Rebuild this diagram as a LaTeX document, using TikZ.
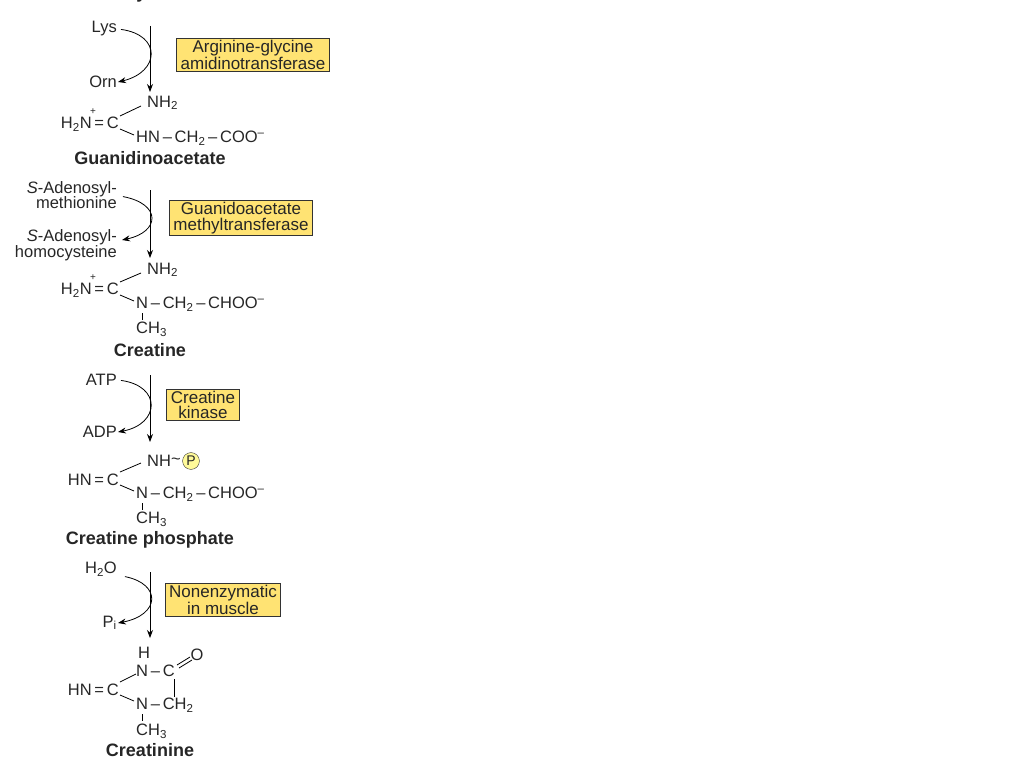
\documentclass[tikz,border=0pt]{standalone}
\usepackage{fontspec}
\setmainfont{Liberation Sans}
\usetikzlibrary{arrows.meta}
\begin{document}
\begin{tikzpicture}[x=1pt,y=-1pt,
  every node/.style={inner sep=1pt,font=\fontsize{16.5}{17}\selectfont,text=black!85},
  lbl/.style={font=\fontsize{18}{19}\selectfont\bfseries},
  enz/.style={draw=black!80,fill=orange!40!yellow!55,line width=0.8pt,align=center,inner xsep=4pt,inner ysep=1.5pt,font=\fontsize{17}{15.5}\selectfont},
  side/.style={align=right,anchor=east,font=\fontsize{16.5}{15.5}\selectfont},
  main/.style={-{Stealth[length=8pt,width=6pt]},line width=0.9pt},
  cur/.style={-{Stealth[length=8pt,width=6pt]},line width=0.8pt,shorten <=3pt},
  bond/.style={line width=0.8pt}]
\useasboundingbox (0,0) rectangle (1024,768);
% ---------- Glycine
\node[lbl] (gly) at (150,-6) {Glycine};
% ---------- step 1
\coordinate (a1) at (150,26); \coordinate (b1) at (150,92);
\draw[main] (a1) -- (b1);
\node[side] (lys) at (118,29) {Lys};
\node[side] (orn) at (118,82) {Orn};
\draw[cur] (lys.east) .. controls (162,35) and (160,72) .. (orn.east);
\node[enz] (e1) at (253,55) {Arginine-glycine\\amidinotransferase};
% Guanidinoacetate
\node[anchor=east] (ga) at (120,124) {H\textsubscript{2}N\,=\,C};
\node[font=\fontsize{10}{10}\selectfont] (gp) at (93,112) {+};
\node[anchor=west] (gb) at (146,103) {NH\textsubscript{2}};
\node[anchor=west] (gc) at (135,138) {HN\,--\,CH\textsubscript{2}\,--\,COO\textsuperscript{--}};
\draw[bond] (120,116) -- (141,106);
\draw[bond] (120,129) -- (134,135);
\node[lbl] (gal) at (150,158) {Guanidinoacetate};
% ---------- step 2
\coordinate (a2) at (150,190); \coordinate (b2) at (150,258);
\draw[main] (a2) -- (b2);
\node[side] (sam) at (118,195) {\textit{S}-Adenosyl-\\methionine};
\node[side] (sah) at (118,245) {\textit{S}-Adenosyl-\\homocysteine};
\draw[cur] (120,196) .. controls (162,204) and (160,232) .. (122,240);
\node[enz] (e2) at (241,218) {Guanidoacetate\\methyltransferase};
% Creatine
\node[anchor=east] (ca) at (120,290) {H\textsubscript{2}N\,=\,C};
\node[font=\fontsize{10}{10}\selectfont] (cp) at (93,278) {+};
\node[anchor=west] (cb) at (146,270) {NH\textsubscript{2}};
\node[anchor=west] (cc) at (135,304) {N\,--\,CH\textsubscript{2}\,--\,CHOO\textsuperscript{--}};
\node[anchor=west] (cd) at (135,329) {CH\textsubscript{3}};
\draw[bond] (120,282) -- (141,273);
\draw[bond] (120,295) -- (134,301);
\draw[bond] (142,313) -- (142,320);
\node[lbl] (cl) at (150,350) {Creatine};
% ---------- step 3
\coordinate (a3) at (150,375); \coordinate (b3) at (150,442);
\draw[main] (a3) -- (b3);
\node[side] (atp) at (118,380) {ATP};
\node[side] (adp) at (118,432) {ADP};
\draw[cur] (atp.east) .. controls (162,386) and (160,424) .. (adp.east);
\node[enz] (e3) at (203,405) {Creatine\\kinase};
% Creatine phosphate
\node[anchor=east] (pa) at (120,480) {HN\,=\,C};
\node[anchor=west] (pb) at (146,461) {NH\raisebox{2pt}{\textasciitilde}};
\node[circle,draw=black!80,fill=yellow!40,inner sep=1.2pt,font=\fontsize{14}{14}\selectfont] (pp) at (191,461) {P};
\node[anchor=west] (pc) at (135,494) {N\,--\,CH\textsubscript{2}\,--\,CHOO\textsuperscript{--}};
\node[anchor=west] (pd) at (135,519) {CH\textsubscript{3}};
\draw[bond] (120,472) -- (141,463);
\draw[bond] (120,485) -- (134,491);
\draw[bond] (142,503) -- (142,510);
\node[lbl] (pl) at (150,540) {Creatine phosphate};
% ---------- step 4
\coordinate (a4) at (150,572); \coordinate (b4) at (150,638);
\draw[main] (a4) -- (b4);
\node[side] (h2o) at (118,569) {H\textsubscript{2}O};
\node[side] (pi) at (118,623) {P\textsubscript{i}};
\draw[cur] (122,576) .. controls (162,584) and (160,615) .. (pi.east);
\node[enz] (e4) at (223,600) {Nonenzymatic\\in muscle};
% Creatinine
\node[anchor=west] (ka) at (137,653) {H};
\node[anchor=west] (kb) at (135,671) {N\,--\,C};
\node (ko) at (197,655) {O};
\draw[bond] (177,665) -- (190,657);
\draw[bond] (179,668) -- (192,660);
\node[anchor=east] (kc) at (120,690) {HN\,=\,C};
\draw[bond] (120,682) -- (136,674);
\draw[bond] (120,695) -- (134,701);
\node[anchor=west] (kd) at (135,705) {N\,--\,CH\textsubscript{2}};
\draw[bond] (174,679) -- (174,697);
\draw[bond] (142,714) -- (142,721);
\node[anchor=west] (ke) at (135,731) {CH\textsubscript{3}};
\node[lbl] (kl) at (150,750) {Creatinine};
\end{tikzpicture}
\end{document}
